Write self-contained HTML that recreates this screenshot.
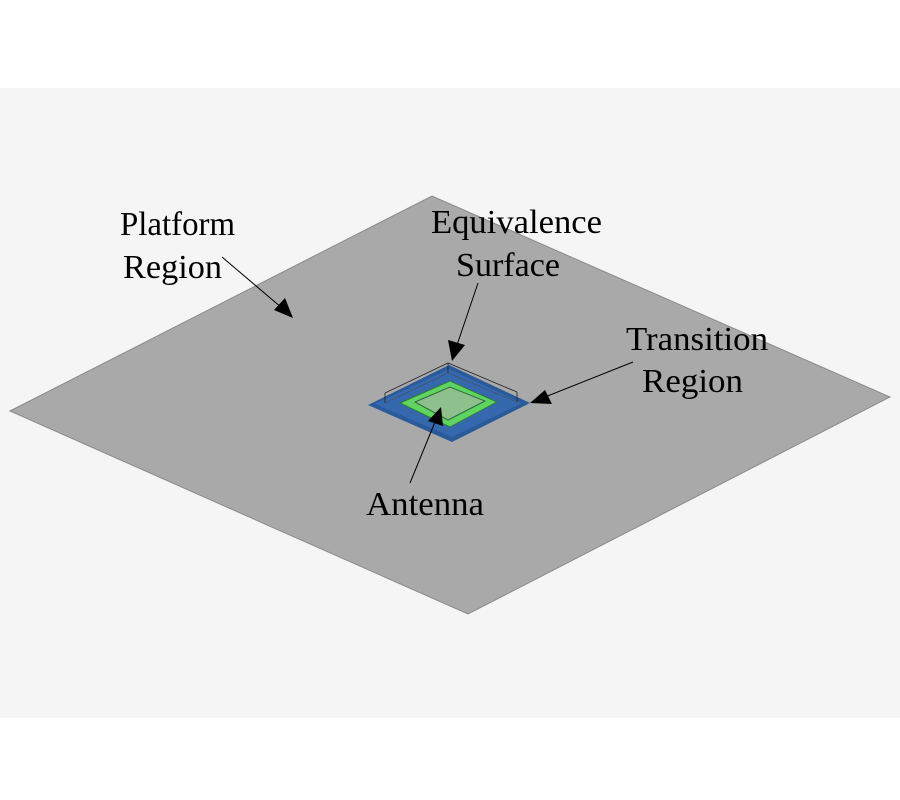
<!DOCTYPE html>
<html><head><style>html,body{margin:0;padding:0;background:#fff;}svg{display:block}</style></head>
<body>
<svg width="900" height="800" viewBox="0 0 900 800" xmlns="http://www.w3.org/2000/svg">
<rect x="0" y="88" width="900" height="630" fill="#f5f5f5"/>
<polygon points="10,411 432,196 890,397 468,614" fill="#a9a9a9" stroke="#8a8a8a" stroke-width="1"/>
<!-- blue transition -->
<polygon points="368,405 449,365 530,403 452,442" fill="#2a5a9a"/>
<polygon points="375,404 449,369 522,403 452,437" fill="#3668ae"/>
<!-- green -->
<polygon points="400,403 450,381 497,402 450,427" fill="#5fd55f" stroke="#2f7a3f" stroke-width="1"/>
<polygon points="415,402 450,387 485,401 448,420" fill="#8ec08e" stroke="#2f6a3f" stroke-width="1"/>
<!-- wireframe box -->
<g fill="none" stroke="#222" stroke-width="0.8">
<polyline points="385,393 448,363 517,392"/>
<line x1="385" y1="393" x2="385" y2="403"/>
<line x1="448" y1="363" x2="448" y2="373"/>
<line x1="517" y1="392" x2="517" y2="402"/>
<polyline points="385,403 448,373 517,402" stroke="#444" stroke-width="0.5"/>
</g>
<!-- arrows -->
<g stroke="#000" stroke-width="1">
<line x1="222" y1="257" x2="282" y2="308"/>
<line x1="478" y1="283" x2="457" y2="345"/>
<line x1="633" y1="362" x2="545" y2="397"/>
<line x1="410" y1="483" x2="435" y2="422"/>
</g>
<g fill="#000">
<polygon points="293,318 274,310 285,298"/>
<polygon points="452,361 448,340 465,345"/>
<polygon points="530,403 545,390 552,404"/>
<polygon points="441,407 443,426 428,421"/>
</g>
<g font-family="Liberation Serif, serif" font-size="34" fill="#000">
<text x="120" y="235" textLength="115" lengthAdjust="spacingAndGlyphs">Platform</text>
<text x="123" y="278" textLength="99" lengthAdjust="spacingAndGlyphs">Region</text>
<text x="431" y="233" textLength="171" lengthAdjust="spacingAndGlyphs">Equivalence</text>
<text x="456" y="276" textLength="104" lengthAdjust="spacingAndGlyphs">Surface</text>
<text x="626" y="350" textLength="142" lengthAdjust="spacingAndGlyphs">Transition</text>
<text x="642" y="392" textLength="101" lengthAdjust="spacingAndGlyphs">Region</text>
<text x="366" y="515" textLength="118" lengthAdjust="spacingAndGlyphs">Antenna</text>
</g>
</svg>
</body></html>
